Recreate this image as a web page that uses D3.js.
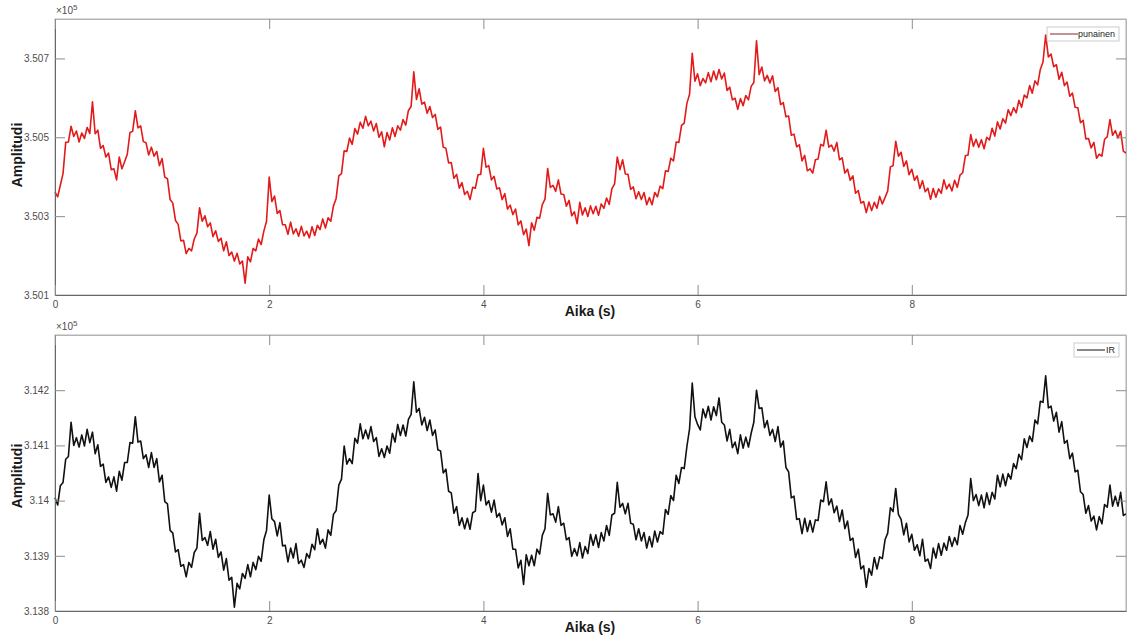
<!DOCTYPE html>
<html lang="fi">
<head>
  <meta charset="UTF-8">
  <style>
    body {
      margin: 0;
      overflow: hidden;
      background: #fff;
    }

    svg {
      display: block;
    }

    .tick text {
      font-family: "Liberation Sans", Arial, sans-serif;
      font-size: 10px;
      fill: #4d4d4d;
    }

    .axisTitle {
      font-family: "Liberation Sans", Arial, sans-serif;
      font-size: 14px;
      font-weight: bold;
      fill: #1a1a1a;
      text-anchor: middle;
    }

    .exponent {
      font-family: "Liberation Sans", Arial, sans-serif;
      font-size: 10px;
      fill: #4d4d4d;
    }

    .legendText {
      font-family: "Liberation Sans", Arial, sans-serif;
      font-size: 9px;
      fill: #262626;
    }
  </style>
  <script src="https://d3js.org/d3.v7.min.js"></script>
</head>
<body>

<svg id="chart"></svg>

<script>
  // sampling interval of the read-off signal (s)
  const sampleStep = 0.025;

  const xTicks = [0, 2, 4, 6, 8];

  // red channel ("punainen"), raw amplitude
  const redTicks = [350100, 350300, 350500, 350700];
  const redValues = [
    350361, 350349, 350379, 350408, 350487, 350488, 350528, 350502, 350516, 350488,
    350511, 350497, 350525, 350510, 350590, 350509, 350518, 350472, 350479, 350450,
    350460, 350418, 350420, 350392, 350450, 350420, 350438, 350457, 350512, 350515,
    350567, 350524, 350529, 350489, 350486, 350455, 350475, 350452, 350464, 350428,
    350446, 350399, 350395, 350342, 350333, 350289, 350279, 350237, 350239, 350205,
    350218, 350212, 350242, 350257, 350321, 350287, 350301, 350273, 350283, 350248,
    350263, 350236, 350244, 350212, 350235, 350200, 350209, 350186, 350206, 350179,
    350186, 350130, 350197, 350184, 350218, 350212, 350242, 350228, 350262, 350287,
    350399, 350337, 350351, 350307, 350314, 350278, 350278, 350254, 350285, 350255,
    350268, 350249, 350274, 350250, 350262, 350245, 350273, 350251, 350277, 350266,
    350293, 350270, 350296, 350287, 350326, 350345, 350402, 350408, 350466, 350464,
    350498, 350482, 350522, 350508, 350538, 350523, 350553, 350529, 350541, 350516,
    350535, 350500, 350514, 350476, 350512, 350493, 350524, 350502, 350529, 350518,
    350545, 350531, 350568, 350578, 350666, 350596, 350623, 350584, 350589, 350561,
    350578, 350550, 350558, 350520, 350526, 350475, 350472, 350435, 350436, 350396,
    350406, 350371, 350385, 350355, 350363, 350342, 350373, 350371, 350405, 350406,
    350472, 350424, 350428, 350392, 350401, 350369, 350372, 350342, 350357, 350318,
    350328, 350304, 350318, 350278, 350288, 350253, 350267, 350225, 350283, 350264,
    350297, 350295, 350329, 350343, 350421, 350373, 350378, 350363, 350392, 350356,
    350355, 350325, 350340, 350301, 350311, 350281, 350335, 350303, 350321, 350299,
    350326, 350306, 350325, 350302, 350331, 350320, 350346, 350330, 350370, 350382,
    350450, 350418, 350443, 350407, 350406, 350368, 350374, 350344, 350362, 350342,
    350360, 350329, 350347, 350329, 350360, 350349, 350376, 350370, 350415, 350413,
    350447, 350440, 350488, 350487, 350530, 350536, 350586, 350609, 350713, 350642,
    350661, 350631, 350649, 350638, 350664, 350641, 350668, 350646, 350672, 350648,
    350663, 350619, 350627, 350595, 350599, 350571, 350598, 350580, 350606, 350595,
    350629, 350639, 350745, 350659, 350678, 350643, 350657, 350638, 350656, 350616,
    350626, 350583, 350588, 350552, 350554, 350505, 350508, 350476, 350481, 350440,
    350454, 350415, 350420, 350409, 350443, 350445, 350482, 350478, 350518, 350475,
    350480, 350465, 350487, 350443, 350448, 350409, 350419, 350391, 350402, 350358,
    350365, 350333, 350337, 350309, 350336, 350314, 350335, 350320, 350350, 350331,
    350347, 350364, 350425, 350428, 350490, 350452, 350462, 350426, 350440, 350405,
    350419, 350391, 350402, 350370, 350390, 350362, 350371, 350343, 350370, 350348,
    350369, 350358, 350392, 350369, 350381, 350364, 350391, 350373, 350404, 350410,
    350453, 350455, 350507, 350477, 350495, 350475, 350494, 350471, 350500, 350493,
    350523, 350503, 350539, 350521, 350547, 350536, 350570, 350555, 350575, 350562,
    350594, 350576, 350607, 350600, 350631, 350612, 350643, 350633, 350672, 350691,
    350759, 350704, 350711, 350679, 350684, 350647, 350665, 350631, 350640, 350604,
    350612, 350576, 350575, 350537, 350543, 350496, 350497, 350473, 350487, 350447,
    350457, 350452, 350495, 350501, 350545, 350505, 350517, 350498, 350515, 350465,
    350460
  ];

  // infrared channel ("IR"), raw amplitude
  const irTicks = [313800, 313900, 314000, 314100, 314200];
  const irValues = [
    314005, 313992, 314027, 314033, 314075, 314080, 314142, 314100, 314114, 314097,
    314119, 314099, 314129, 314105, 314124, 314085, 314101, 314062, 314066, 314033,
    314043, 314024, 314043, 314017, 314053, 314037, 314069, 314069, 314105, 314104,
    314152, 314106, 314108, 314076, 314083, 314060, 314087, 314060, 314076, 314034,
    314046, 313998, 313994, 313946, 313941, 313907, 313911, 313881, 313884, 313862,
    313888, 313879, 313906, 313914, 313977, 313928, 313933, 313919, 313944, 313912,
    313930, 313897, 313907, 313874, 313895, 313856, 313861, 313807, 313850, 313840,
    313868, 313859, 313884, 313862, 313888, 313875, 313899, 313890, 313929, 313946,
    314010, 313967, 313962, 313936, 313960, 313918, 313919, 313889, 313914, 313896,
    313922, 313886, 313892, 313879, 313904, 313896, 313921, 313911, 313949, 313921,
    313930, 313914, 313947, 313937, 313975, 313982, 314028, 314039, 314099, 314066,
    314076, 314067, 314113, 314104, 314139, 314112, 314128, 314112, 314134, 314107,
    314114, 314080, 314094, 314078, 314099, 314086, 314122, 314106, 314138, 314118,
    314137, 314117, 314147, 314156, 314215, 314160, 314167, 314137, 314151, 314127,
    314146, 314118, 314128, 314092, 314090, 314050, 314057, 314017, 314014, 313977,
    313989, 313955, 313969, 313949, 313968, 313948, 313978, 313981, 314049, 314000,
    314028, 313992, 314000, 313979, 314001, 313970, 313977, 313956, 313969, 313935,
    313949, 313912, 313912, 313878, 313892, 313848, 313902, 313882, 313901, 313882,
    313912, 313903, 313937, 313949, 314013, 313974, 313976, 313961, 313989, 313955,
    313959, 313929, 313933, 313899, 313913, 313900, 313924, 313896, 313917, 313904,
    313939, 313919, 313938, 313915, 313942, 313927, 313955, 313937, 313974, 313977,
    314033, 313988, 313995, 313976, 313995, 313959, 313957, 313929, 313949, 313927,
    313942, 313914, 313935, 313916, 313945, 313925, 313944, 313939, 313984, 313975,
    314009, 314000, 314046, 314031, 314060, 314058, 314098, 314130, 314213, 314152,
    314138, 314128, 314166, 314150, 314171, 314146, 314170, 314154, 314186, 314142,
    314137, 314108, 314129, 314096, 314106, 314085, 314119, 314095, 314115, 314097,
    314122, 314142, 314200, 314167, 314168, 314132, 314145, 314118, 314129, 314107,
    314134, 314097, 314108, 314060, 314052, 314005, 314008, 313966, 313967, 313940,
    313968, 313944, 313964, 313943, 313965, 313964, 314001, 313998, 314034, 313992,
    314003, 313978, 313990, 313962, 313983, 313949, 313963, 313928, 313932, 313897,
    313912, 313876, 313882, 313843, 313877, 313865, 313897, 313876, 313898, 313895,
    313929, 313941, 313987, 313980, 314022, 313975, 313966, 313938, 313959, 313925,
    313939, 313910, 313920, 313900, 313930, 313890, 313894, 313877, 313914, 313896,
    313922, 313901, 313923, 313910, 313935, 313917, 313933, 313920, 313955, 313939,
    313960, 313974, 314040, 314000, 314011, 313991, 314010, 313987, 314014, 313993,
    314015, 314003, 314046, 314025, 314048, 314027, 314049, 314039, 314067, 314058,
    314084, 314074, 314112, 314096, 314117, 314107, 314146, 314139, 314180, 314178,
    314226, 314168, 314171, 314144, 314160, 314124, 314143, 314104, 314109, 314076,
    314086, 314052, 314055, 314016, 314011, 313977, 313991, 313963, 313972, 313947,
    313971, 313958, 313993, 313988, 314028, 313990, 314008, 313990, 314015, 313973,
    313976
  ];

  const width = 1128;
  const height = 637;

  const svg = d3.select("#chart")
    .attr("width", width)
    .attr("height", height);

  function drawPanel(opts) {
    const left = 55, right = 1126;
    const x = d3.scaleLinear().domain([0, 10]).range([left, right]);
    const y = d3.scaleLinear().domain(opts.yDomain).range([opts.bottom, opts.top]);

    const g = svg.append("g");
    const axisColor = "#8c8c8c";
    const fmt = d => (d / 1e5).toFixed(3).replace(/0+$/, "").replace(/\.$/, "");

    // box
    g.append("rect")
      .attr("x", left)
      .attr("y", opts.top)
      .attr("width", right - left)
      .attr("height", opts.bottom - opts.top)
      .attr("fill", "none")
      .attr("stroke", "#b3b3b3")
      .attr("stroke-width", 1);

    // line first, axes over it
    const line = d3.line()
      .x((d, i) => x(i * sampleStep))
      .y(d => y(d));

    g.append("path")
      .datum(opts.values)
      .attr("fill", "none")
      .attr("stroke", opts.color)
      .attr("stroke-width", 1.6)
      .attr("stroke-linejoin", "round")
      .attr("d", line);

    const yAxis = g.append("g")
      .attr("transform", `translate(${left},0)`)
      .call(d3.axisLeft(y).tickValues(opts.yTicks).tickFormat(fmt)
        .tickSizeInner(-10).tickSizeOuter(0).tickPadding(6));

    const yAxisR = g.append("g")
      .attr("transform", `translate(${right},0)`)
      .call(d3.axisRight(y).tickValues(opts.yTicks).tickFormat("")
        .tickSizeInner(-10).tickSizeOuter(0));

    const xAxis = g.append("g")
      .attr("transform", `translate(0,${opts.bottom})`)
      .call(d3.axisBottom(x).tickValues(xTicks).tickFormat(d3.format("d"))
        .tickSizeInner(-10).tickSizeOuter(0).tickPadding(6));

    const xAxisT = g.append("g")
      .attr("transform", `translate(0,${opts.top})`)
      .call(d3.axisTop(x).tickValues(xTicks).tickFormat("")
        .tickSizeInner(-10).tickSizeOuter(0));

    [yAxis, yAxisR, xAxisT].forEach(a => a.select(".domain").attr("stroke", "#b3b3b3"));
    yAxis.select(".domain").attr("stroke", "#666");
    xAxis.select(".domain").attr("stroke", "#666");
    [yAxis, yAxisR, xAxis, xAxisT].forEach(a => a.selectAll(".tick line").attr("stroke", axisColor));
    yAxis.selectAll(".tick text").attr("font-family", null).attr("font-size", null);
    xAxis.selectAll(".tick text").attr("font-family", null).attr("font-size", null);

    // x10^5 multiplier
    const ex = g.append("text")
      .attr("class", "exponent")
      .attr("x", left + 1)
      .attr("y", opts.top - 5);
    ex.append("tspan").text("\u00d710");
    ex.append("tspan").attr("dy", -4).attr("font-size", "8px").text("5");

    g.append("text")
      .attr("class", "axisTitle")
      .attr("transform", `translate(22,${opts.titleY}) rotate(-90)`)
      .text("Amplitudi");

    g.append("text")
      .attr("class", "axisTitle")
      .attr("x", 590)
      .attr("y", opts.bottom + 21)
      .text("Aika (s)");

    // legend
    const lg = g.append("g");
    lg.append("rect")
      .attr("x", opts.legendX)
      .attr("y", opts.top + 8)
      .attr("width", 1119 - opts.legendX)
      .attr("height", 14)
      .attr("fill", "#fff")
      .attr("stroke", "#bfbfbf")
      .attr("stroke-width", 0.8);
    lg.append("line")
      .attr("x1", opts.legendX + 3)
      .attr("x2", opts.legendX + 31)
      .attr("y1", opts.top + 15)
      .attr("y2", opts.top + 15)
      .attr("stroke", opts.legendColor)
      .attr("stroke-width", 1);
    lg.append("text")
      .attr("class", "legendText")
      .attr("x", 1115)
      .attr("y", opts.top + 18)
      .attr("text-anchor", "end")
      .text(opts.name);
  }

  drawPanel({
    values: redValues,
    yDomain: [350100, 350800],
    yTicks: redTicks,
    top: 19,
    bottom: 295,
    color: "#e31a1a",
    legendColor: "#8e2222",
    titleY: 155,
    legendX: 1047,
    name: "punainen"
  });

  drawPanel({
    values: irValues,
    yDomain: [313800, 314300],
    yTicks: irTicks,
    top: 335,
    bottom: 611,
    color: "#111",
    legendColor: "#111",
    titleY: 476,
    legendX: 1074,
    name: "IR"
  });
</script>

</body>
</html>
